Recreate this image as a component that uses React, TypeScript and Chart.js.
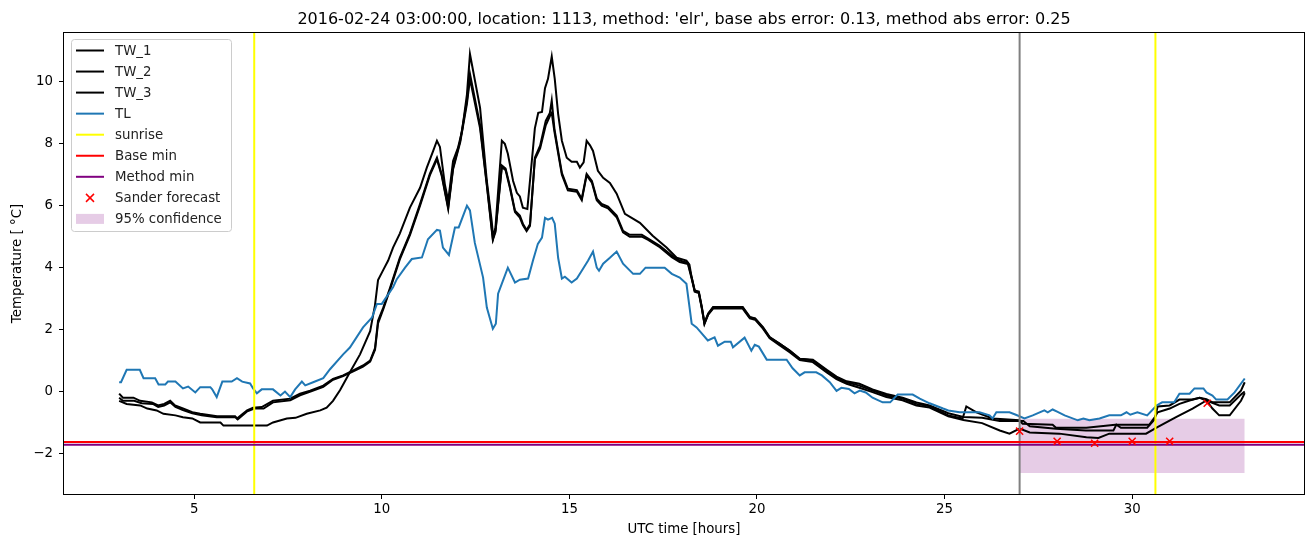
import React, { useEffect, useRef } from "react";
import { Chart, registerables } from "chart.js";

Chart.register(...registerables);

const TITLE =
  "2016-02-24 03:00:00, location: 1113, method: 'elr', base abs error: 0.13, method abs error: 0.25";
const X_LABEL = "UTC time [hours]";
const Y_LABEL = "Temperature [ °C]";

const X_MIN = 1.53;
const X_MAX = 34.58;
const Y_MIN = -3.31;
const Y_MAX = 11.58;
const X_TICKS = [5, 10, 15, 20, 25, 30];
const Y_TICKS = [-2, 0, 2, 4, 6, 8, 10];

const SUNRISE = [6.6, 30.62];
const FORECAST_START = 27;
const BASE_MIN = -1.63;
const METHOD_MIN = -1.72;
const SANDER_X = [27, 28, 29, 30, 31, 32];
const SANDER_Y = [-1.28, -1.61, -1.67, -1.61, -1.61, -0.38];
const CONF_X = [27, 33];
const CONF_LOW = -2.63;
const CONF_HIGH = -0.88;

const TL_X = [3.0, 3.05, 3.2, 3.55, 3.65, 3.96, 4.05, 4.23, 4.3, 4.5, 4.7, 4.84, 5.03, 5.16, 5.43, 5.48, 5.6, 5.75, 6.0, 6.14, 6.28, 6.49, 6.57, 6.67, 6.8, 7.1, 7.3, 7.42, 7.56, 7.69, 7.87, 7.96, 8.17, 8.44, 8.62, 8.97, 9.15, 9.5, 9.74, 9.87, 10.0, 10.3, 10.4, 10.62, 10.8, 11.07, 11.23, 11.47, 11.55, 11.63, 11.79, 11.95, 12.05, 12.27, 12.35, 12.48, 12.7, 12.8, 12.96, 13.04, 13.1, 13.23, 13.36, 13.55, 13.68, 13.9, 14.03, 14.16, 14.27, 14.35, 14.43, 14.54, 14.61, 14.7, 14.8, 14.88, 15.06, 15.2, 15.33, 15.5, 15.63, 15.73, 15.79, 15.9, 16.08, 16.26, 16.43, 16.7, 16.88, 17.03, 17.54, 17.73, 17.94, 18.12, 18.26, 18.39, 18.69, 18.87, 18.96, 19.14, 19.3, 19.36, 19.67, 19.85, 19.94, 20.05, 20.26, 20.79, 20.95, 21.14, 21.27, 21.58, 21.73, 21.94, 22.12, 22.25, 22.45, 22.6, 22.74, 22.9, 23.08, 23.35, 23.55, 23.75, 24.15, 24.34, 24.6, 24.96, 25.1, 25.4, 25.93, 26.2, 26.28, 26.38, 26.73, 26.9, 27.13, 27.35, 27.66, 27.75, 27.88, 28.0, 28.2, 28.55, 28.7, 28.86, 29.13, 29.39, 29.7, 29.85, 29.95, 30.14, 30.4, 30.65, 30.8, 31.12, 31.26, 31.53, 31.66, 31.9, 31.98, 32.14, 32.24, 32.54, 32.73, 33.0];
const TL_Y = [0.3, 0.3, 0.7, 0.7, 0.43, 0.43, 0.23, 0.23, 0.32, 0.32, 0.1, 0.16, -0.03, 0.14, 0.14, 0.07, -0.18, 0.32, 0.32, 0.43, 0.32, 0.26, 0.1, -0.06, 0.07, 0.07, -0.13, 0.0, -0.18, 0.07, 0.32, 0.2, 0.3, 0.43, 0.72, 1.2, 1.42, 2.07, 2.39, 2.83, 2.83, 3.37, 3.63, 4.0, 4.28, 4.33, 4.92, 5.22, 5.2, 4.65, 4.41, 5.3, 5.3, 6.0, 5.85, 4.8, 3.68, 2.71, 2.03, 2.19, 3.16, 3.58, 4.0, 3.52, 3.61, 3.65, 4.23, 4.77, 4.97, 5.61, 5.55, 5.61, 5.42, 4.32, 3.65, 3.71, 3.52, 3.65, 3.9, 4.23, 4.52, 4.0, 3.9, 4.13, 4.32, 4.52, 4.13, 3.8, 3.8, 4.0, 4.0, 3.8, 3.68, 3.48, 2.19, 2.07, 1.65, 1.75, 1.48, 1.61, 1.61, 1.43, 1.74, 1.32, 1.51, 1.45, 1.03, 1.03, 0.75, 0.52, 0.62, 0.62, 0.52, 0.3, 0.02, 0.12, 0.08, -0.06, 0.03, -0.03, -0.2, -0.35, -0.35, -0.1, -0.1, -0.23, -0.38, -0.55, -0.61, -0.67, -0.67, -0.77, -0.87, -0.67, -0.67, -0.75, -0.87, -0.77, -0.61, -0.67, -0.58, -0.65, -0.77, -0.93, -0.87, -0.93, -0.87, -0.77, -0.77, -0.67, -0.75, -0.67, -0.77, -0.45, -0.35, -0.35, -0.07, -0.07, 0.1, 0.1, -0.03, -0.13, -0.26, -0.26, -0.03, 0.42];

const TW1_X = [3.0, 3.2, 3.56, 3.75, 4.0, 4.18, 4.5, 4.7, 4.95, 5.16, 5.7, 5.78, 6.94, 7.1, 7.47, 7.7, 8.0, 8.36, 8.53, 8.7, 8.89, 9.15, 9.42, 9.69, 9.82, 9.9, 10.04, 10.17, 10.3, 10.48, 10.75, 11.02, 11.2, 11.37, 11.47, 11.55, 11.68, 11.77, 11.9, 12.03, 12.14, 12.27, 12.35, 12.62, 12.8, 12.93, 12.97, 13.03, 13.2, 13.28, 13.36, 13.5, 13.6, 13.68, 13.76, 13.88, 14.08, 14.17, 14.27, 14.35, 14.43, 14.53, 14.61, 14.7, 14.8, 14.93, 15.06, 15.2, 15.28, 15.38, 15.46, 15.55, 15.63, 15.76, 15.9, 16.08, 16.26, 16.48, 16.66, 16.88, 17.22, 17.59, 17.86, 18.12, 18.2, 18.26, 18.34, 18.45, 18.53, 18.6, 18.7, 18.83, 19.62, 19.81, 19.95, 20.16, 20.34, 20.6, 20.87, 21.14, 21.49, 21.86, 22.12, 22.39, 22.73, 23.08, 23.45, 23.88, 24.25, 24.6, 25.1, 25.48, 25.58, 25.85, 26.28, 26.99, 27.08, 27.88, 27.97, 28.78, 29.55, 30.46, 30.6, 30.68, 31.0, 31.26, 31.53, 31.8, 31.98, 32.14, 32.6, 32.9, 33.0];
const TW1_Y = [-0.3, -0.4, -0.45, -0.55, -0.61, -0.72, -0.77, -0.83, -0.87, -1.0, -1.0, -1.1, -1.1, -1.0, -0.87, -0.85, -0.72, -0.61, -0.52, -0.3, 0.05, 0.62, 1.2, 1.95, 2.8, 3.6, 3.93, 4.23, 4.65, 5.1, 5.94, 6.58, 7.23, 7.77, 8.1, 7.9, 6.7, 6.16, 7.45, 7.87, 8.42, 9.6, 10.9, 9.16, 6.8, 5.5, 4.97, 5.3, 8.1, 8.0, 7.68, 6.8, 6.42, 6.3, 5.94, 5.9, 8.5, 9.0, 9.03, 9.8, 10.1, 10.82, 10.1, 8.97, 8.1, 7.55, 7.42, 7.42, 7.23, 7.4, 8.1, 7.95, 7.77, 7.13, 6.9, 6.74, 6.39, 5.74, 5.61, 5.45, 5.03, 4.65, 4.32, 4.23, 4.1, 3.68, 3.26, 3.2, 2.71, 2.2, 2.5, 2.71, 2.71, 2.39, 2.35, 2.06, 1.74, 1.55, 1.32, 1.06, 1.0, 0.68, 0.45, 0.3, 0.19, 0.03, -0.13, -0.23, -0.4, -0.48, -0.77, -0.87, -0.48, -0.67, -0.87, -0.93, -1.04, -1.07, -1.17, -1.17, -1.07, -1.07, -0.83, -0.67, -0.55, -0.4, -0.29, -0.2, -0.25, -0.35, -0.35, 0.03, 0.3];

const TW2_X = [3.0, 3.1, 3.38, 3.56, 3.87, 4.04, 4.2, 4.36, 4.49, 4.7, 4.95, 5.16, 5.61, 6.09, 6.14, 6.41, 6.57, 6.8, 7.1, 7.56, 7.82, 8.09, 8.44, 8.7, 8.97, 9.24, 9.5, 9.69, 9.82, 9.9, 10.04, 10.22, 10.48, 10.75, 11.02, 11.28, 11.47, 11.6, 11.77, 11.9, 12.09, 12.27, 12.35, 12.62, 12.8, 12.96, 13.03, 13.2, 13.3, 13.42, 13.55, 13.68, 13.76, 13.86, 13.95, 14.08, 14.22, 14.37, 14.48, 14.53, 14.6, 14.7, 14.8, 14.96, 15.2, 15.33, 15.46, 15.6, 15.73, 15.86, 16.03, 16.26, 16.43, 16.61, 16.93, 17.1, 17.41, 17.73, 17.94, 18.16, 18.26, 18.34, 18.45, 18.53, 18.6, 18.7, 18.83, 19.62, 19.81, 19.95, 20.16, 20.34, 20.6, 20.87, 21.14, 21.49, 21.86, 22.12, 22.39, 22.73, 23.08, 23.45, 23.88, 24.25, 24.6, 25.1, 25.5, 26.0, 26.47, 27.1, 27.27, 27.97, 28.77, 29.5, 29.58, 29.7, 30.4, 30.6, 30.68, 31.0, 31.26, 31.6, 31.8, 31.98, 32.32, 32.6, 32.9, 33.0];
const TW2_Y = [-0.07, -0.2, -0.2, -0.3, -0.35, -0.45, -0.4, -0.3, -0.45, -0.55, -0.67, -0.72, -0.8, -0.8, -0.87, -0.61, -0.52, -0.5, -0.3, -0.23, -0.07, 0.03, 0.19, 0.41, 0.52, 0.68, 0.84, 1.0, 1.4, 2.29, 2.71, 3.35, 4.32, 5.1, 6.06, 7.03, 7.55, 7.0, 5.94, 7.23, 8.1, 9.4, 10.26, 8.6, 6.7, 4.94, 5.2, 7.3, 7.2, 6.6, 5.84, 5.68, 5.42, 5.22, 5.4, 7.55, 7.94, 8.74, 9.0, 9.4, 8.5, 7.77, 7.06, 6.55, 6.5, 6.23, 7.03, 6.8, 6.23, 6.06, 5.97, 5.68, 5.19, 5.06, 5.06, 4.94, 4.71, 4.39, 4.23, 4.16, 3.68, 3.26, 3.23, 2.73, 2.22, 2.52, 2.73, 2.73, 2.41, 2.36, 2.08, 1.76, 1.55, 1.32, 1.06, 1.03, 0.7, 0.48, 0.33, 0.25, 0.07, -0.08, -0.2, -0.35, -0.45, -0.7, -0.82, -0.85, -0.95, -0.95, -1.12, -1.2, -1.26, -1.26, -1.07, -1.17, -1.17, -0.9, -0.48, -0.45, -0.26, -0.26, -0.2, -0.29, -0.45, -0.45, -0.1, 0.0];

const TW3_X = [3.0, 3.1, 3.4, 3.6, 3.9, 4.04, 4.2, 4.36, 4.5, 4.7, 4.95, 5.2, 5.6, 6.1, 6.16, 6.4, 6.6, 6.85, 7.1, 7.56, 7.82, 8.1, 8.44, 8.7, 8.97, 9.24, 9.5, 9.69, 9.82, 9.9, 10.04, 10.22, 10.48, 10.75, 11.02, 11.28, 11.47, 11.6, 11.77, 11.9, 12.09, 12.27, 12.35, 12.62, 12.8, 12.96, 13.03, 13.2, 13.3, 13.42, 13.55, 13.68, 13.76, 13.86, 13.95, 14.08, 14.22, 14.37, 14.48, 14.53, 14.6, 14.7, 14.8, 14.96, 15.2, 15.33, 15.46, 15.6, 15.73, 15.86, 16.03, 16.26, 16.43, 16.61, 16.93, 17.1, 17.41, 17.73, 17.94, 18.16, 18.26, 18.34, 18.45, 18.53, 18.6, 18.7, 18.83, 19.62, 19.81, 19.95, 20.16, 20.34, 20.6, 20.87, 21.14, 21.49, 21.86, 22.12, 22.39, 22.73, 23.08, 23.45, 23.88, 24.25, 24.6, 25.1, 25.5, 26.0, 26.47, 26.73, 27.0, 27.27, 28.06, 28.78, 29.1, 29.39, 30.37, 30.65, 31.17, 31.61, 31.98, 32.14, 32.32, 32.6, 32.9, 33.0];
const TW3_Y = [-0.2, -0.3, -0.3, -0.38, -0.4, -0.5, -0.45, -0.35, -0.5, -0.6, -0.7, -0.77, -0.83, -0.83, -0.9, -0.65, -0.55, -0.55, -0.35, -0.28, -0.12, 0.0, 0.15, 0.38, 0.5, 0.65, 0.8, 0.97, 1.35, 2.2, 2.66, 3.3, 4.27, 5.05, 6.0, 6.98, 7.5, 6.95, 5.9, 7.18, 8.05, 9.3, 10.1, 8.5, 6.65, 4.9, 5.15, 7.25, 7.15, 6.55, 5.8, 5.62, 5.38, 5.18, 5.35, 7.5, 7.85, 8.6, 8.9, 9.0, 8.4, 7.7, 7.0, 6.5, 6.45, 6.18, 6.98, 6.75, 6.18, 6.0, 5.92, 5.63, 5.14, 5.0, 5.0, 4.9, 4.66, 4.34, 4.18, 4.12, 3.64, 3.22, 3.18, 2.68, 2.18, 2.48, 2.68, 2.68, 2.36, 2.32, 2.03, 1.72, 1.5, 1.27, 1.02, 0.95, 0.62, 0.4, 0.25, 0.12, -0.02, -0.18, -0.28, -0.45, -0.52, -0.8, -0.92, -1.02, -1.26, -1.36, -1.2, -1.32, -1.36, -1.48, -1.5, -1.36, -1.36, -1.17, -0.83, -0.55, -0.29, -0.55, -0.77, -0.77, -0.3, -0.05];

const LEGEND_LABELS = [
  "TW_1",
  "TW_2",
  "TW_3",
  "TL",
  "sunrise",
  "Base min",
  "Method min",
  "Sander forecast",
  "95% confidence",
];

const FONT = '"DejaVu Sans", "Liberation Sans", sans-serif';
const BLUE = "#1f77b4";
const CONF_COLOR = "rgba(128,0,128,0.2)";

function pts(xs: number[], ys: number[]) {
  return xs.map((x, i) => ({ x, y: ys[i] }));
}

const mplPlugin = {
  id: "mplDecor",
  afterDraw(chart: any) {
    const ctx: CanvasRenderingContext2D = chart.ctx;
    const ca = chart.chartArea;
    ctx.save();
    // frame
    ctx.strokeStyle = "#000";
    ctx.lineWidth = 1;
    ctx.strokeRect(
      Math.round(ca.left) - 0.5,
      Math.round(ca.top) - 0.5,
      Math.round(ca.right - ca.left) + 1,
      Math.round(ca.bottom - ca.top) + 1
    );
    // title
    ctx.fillStyle = "#000";
    ctx.font = `16px ${FONT}`;
    ctx.textAlign = "center";
    ctx.textBaseline = "alphabetic";
    ctx.fillText(TITLE, (ca.left + ca.right) / 2, 24);

    // legend
    const bx = 71.5,
      by = 39.5,
      bw = 160,
      bh = 192,
      r = 3;
    ctx.beginPath();
    ctx.moveTo(bx + r, by);
    ctx.lineTo(bx + bw - r, by);
    ctx.quadraticCurveTo(bx + bw, by, bx + bw, by + r);
    ctx.lineTo(bx + bw, by + bh - r);
    ctx.quadraticCurveTo(bx + bw, by + bh, bx + bw - r, by + bh);
    ctx.lineTo(bx + r, by + bh);
    ctx.quadraticCurveTo(bx, by + bh, bx, by + bh - r);
    ctx.lineTo(bx, by + r);
    ctx.quadraticCurveTo(bx, by, bx + r, by);
    ctx.closePath();
    ctx.fillStyle = "rgba(255,255,255,0.8)";
    ctx.fill();
    ctx.strokeStyle = "#cccccc";
    ctx.lineWidth = 1;
    ctx.stroke();

    const colors = ["#000", "#000", "#000", BLUE, "#ffff00", "#ff0000", "#800080"];
    const rowStart = 50.5;
    const rowStep = 21.05;
    ctx.font = `13.33px ${FONT}`;
    ctx.textAlign = "left";
    ctx.textBaseline = "middle";
    LEGEND_LABELS.forEach((label, i) => {
      const y = rowStart + i * rowStep;
      if (i < 7) {
        ctx.strokeStyle = colors[i];
        ctx.lineWidth = 2;
        ctx.beginPath();
        ctx.moveTo(76, y);
        ctx.lineTo(104, y);
        ctx.stroke();
      } else if (i === 7) {
        ctx.strokeStyle = "#ff0000";
        ctx.lineWidth = 1.5;
        const s = 4;
        ctx.beginPath();
        ctx.moveTo(90 - s, y - s);
        ctx.lineTo(90 + s, y + s);
        ctx.moveTo(90 - s, y + s);
        ctx.lineTo(90 + s, y - s);
        ctx.stroke();
      } else {
        ctx.fillStyle = CONF_COLOR;
        ctx.fillRect(76, y - 5, 28, 10);
      }
      ctx.fillStyle = "#222";
      ctx.fillText(label, 115, y + 1);
    });
    ctx.restore();
  },
};

export default function App() {
  const canvasRef = useRef<HTMLCanvasElement | null>(null);

  useEffect(() => {
    document.body.style.margin = "0";
    const canvas = canvasRef.current;
    if (!canvas) return;

    const lineDs = (label: string, data: any[], color: string, width = 2) => ({
      label,
      data,
      borderColor: color,
      backgroundColor: color,
      borderWidth: width,
      pointRadius: 0,
      tension: 0,
      fill: false,
    });

    const datasets: any[] = [
      {
        label: "Sander forecast",
        data: pts(SANDER_X, SANDER_Y),
        showLine: false,
        pointStyle: "crossRot",
        pointRadius: 5,
        pointBorderWidth: 1.5,
        borderColor: "#ff0000",
        backgroundColor: "#ff0000",
        pointBorderColor: "#ff0000",
      },
      lineDs("Method min", [
        { x: X_MIN, y: METHOD_MIN },
        { x: X_MAX, y: METHOD_MIN },
      ], "#800080"),
      lineDs("Base min", [
        { x: X_MIN, y: BASE_MIN },
        { x: X_MAX, y: BASE_MIN },
      ], "#ff0000"),
      lineDs("sunrise2", [
        { x: SUNRISE[1], y: Y_MIN },
        { x: SUNRISE[1], y: Y_MAX },
      ], "#ffff00"),
      lineDs("sunrise", [
        { x: SUNRISE[0], y: Y_MIN },
        { x: SUNRISE[0], y: Y_MAX },
      ], "#ffff00"),
      lineDs("forecast start", [
        { x: FORECAST_START, y: Y_MIN },
        { x: FORECAST_START, y: Y_MAX },
      ], "#808080"),
      lineDs("TL", pts(TL_X, TL_Y), BLUE),
      lineDs("TW_3", pts(TW3_X, TW3_Y), "#000"),
      lineDs("TW_2", pts(TW2_X, TW2_Y), "#000"),
      lineDs("TW_1", pts(TW1_X, TW1_Y), "#000"),
      {
        label: "95% confidence",
        data: CONF_X.map((x) => ({ x, y: CONF_HIGH })),
        borderWidth: 0,
        borderColor: "rgba(0,0,0,0)",
        pointRadius: 0,
        backgroundColor: CONF_COLOR,
        fill: { value: CONF_LOW },
      },
    ];

    const tickFont = { family: FONT, size: 13.33 };

    const chart = new Chart(canvas, {
      type: "line",
      data: { datasets },
      options: {
        responsive: false,
        animation: false,
        devicePixelRatio: 1,
        layout: { padding: { left: 0, right: 9, top: 33, bottom: 0 } },
        plugins: {
          legend: { display: false },
          tooltip: { enabled: false },
          title: { display: false },
        },
        scales: {
          x: {
            type: "linear",
            min: X_MIN,
            max: X_MAX,
            afterBuildTicks: (s: any) => {
              s.ticks = X_TICKS.map((v) => ({ value: v }));
            },
            afterFit: (s: any) => {
              s.height = 53;
            },
            ticks: {
              font: tickFont,
              color: "#000",
              padding: 3,
              maxRotation: 0,
              autoSkip: false,
              callback: (v: any) => String(v),
            },
            grid: {
              display: true,
              drawOnChartArea: false,
              drawTicks: true,
              tickLength: 5,
              color: "#000",
            },
            border: { display: false },
            title: {
              display: true,
              text: X_LABEL,
              font: tickFont,
              color: "#000",
              padding: { top: 4, bottom: 9 },
            },
          },
          y: {
            type: "linear",
            min: Y_MIN,
            max: Y_MAX,
            afterBuildTicks: (s: any) => {
              s.ticks = Y_TICKS.map((v) => ({ value: v }));
            },
            afterFit: (s: any) => {
              s.width = 64;
            },
            ticks: {
              font: tickFont,
              color: "#000",
              padding: 6,
              autoSkip: false,
              callback: (v: any) => String(v).replace("-", "\u2212"),
            },
            grid: {
              display: true,
              drawOnChartArea: false,
              drawTicks: true,
              tickLength: 5,
              color: "#000",
            },
            border: { display: false },
            title: {
              display: true,
              text: Y_LABEL,
              font: tickFont,
              color: "#000",
              padding: { top: 10, bottom: 4 },
            },
          },
        },
      },
      plugins: [mplPlugin],
    });

    return () => {
      chart.destroy();
    };
  }, []);

  return (
    <div style={{ width: 1313, height: 547, position: "relative", background: "#fff" }}>
      <canvas ref={canvasRef} width={1313} height={547} style={{ display: "block" }} />
    </div>
  );
}
